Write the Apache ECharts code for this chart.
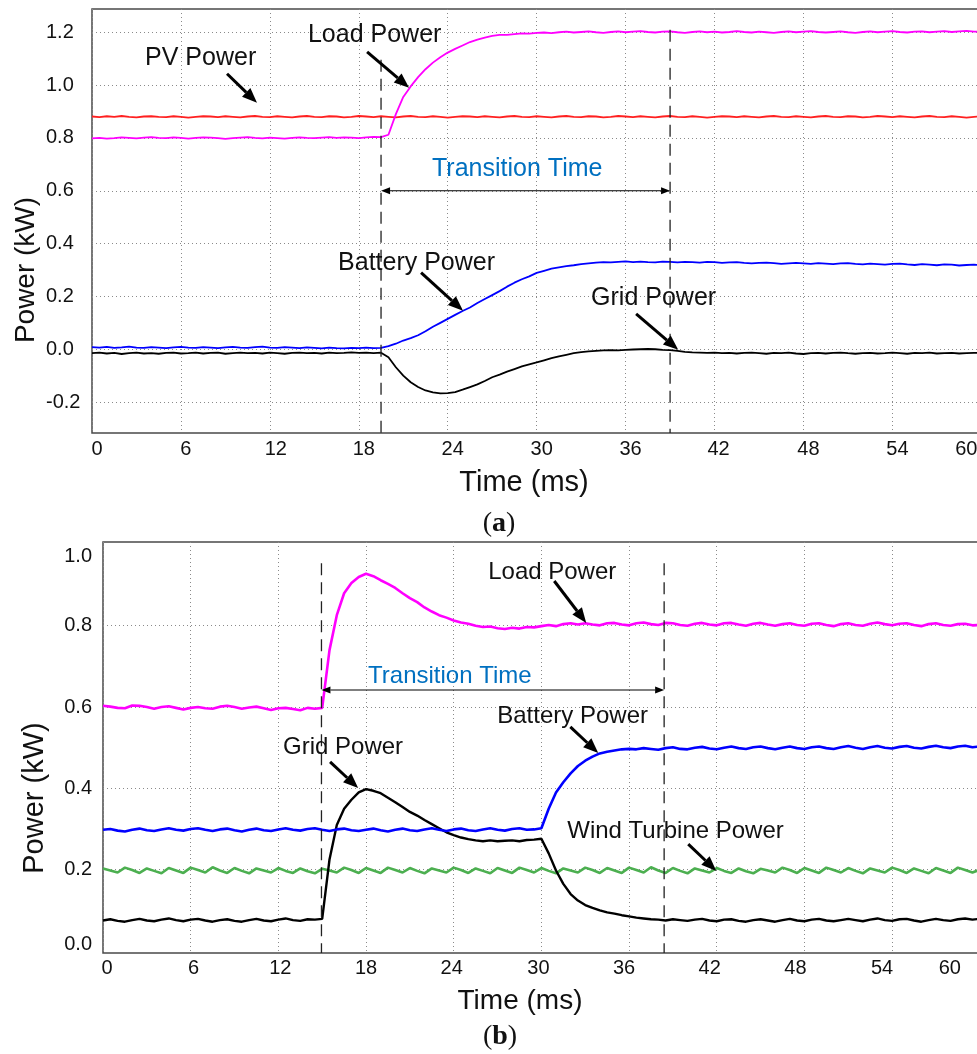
<!DOCTYPE html>
<html>
<head>
<meta charset="utf-8">
<script src="https://cdn.jsdelivr.net/npm/echarts@6.0.0/dist/echarts.min.js"></script>
<style>
  html, body { margin: 0; padding: 0; background: #fff; }
  #chart { width: 977px; height: 1054px; }
</style>
</head>
<body>
<div id="chart"></div>
<script>
// sample times (ms), shared by both panels
const time = [
  0,0.5,1,1.5,2,2.5,3,3.5,4,4.5, 5,5.5,6,6.5,7,7.5,8,8.5,9,9.5,
  10,10.5,11,11.5,12,12.5,13,13.5,14,14.5, 15,15.5,16,16.5,17,17.5,18,18.5,19,19.5,
  20,20.5,21,21.5,22,22.5,23,23.5,24,24.5, 25,25.5,26,26.5,27,27.5,28,28.5,29,29.5,
  30,30.5,31,31.5,32,32.5,33,33.5,34,34.5, 35,35.5,36,36.5,37,37.5,38,38.5,39,39.5,
  40,40.5,41,41.5,42,42.5,43,43.5,44,44.5, 45,45.5,46,46.5,47,47.5,48,48.5,49,49.5,
  50,50.5,51,51.5,52,52.5,53,53.5,54,54.5, 55,55.5,56,56.5,57,57.5,58,58.5,59,59.5,
  60
];

// ---- panel (a) ----
const aPv = [
  0.881,0.879,0.882,0.880,0.883,0.880,0.878,0.881,0.882,0.880,
  0.879,0.882,0.880,0.877,0.880,0.882,0.881,0.879,0.882,0.880,
  0.878,0.881,0.883,0.880,0.879,0.882,0.880,0.878,0.881,0.883,
  0.880,0.879,0.882,0.881,0.878,0.880,0.883,0.881,0.879,0.882,
  0.880,0.878,0.881,0.883,0.880,0.879,0.882,0.880,0.877,0.880,
  0.882,0.881,0.879,0.882,0.880,0.878,0.881,0.883,0.880,0.879,
  0.882,0.880,0.878,0.881,0.883,0.880,0.879,0.882,0.881,0.878,
  0.880,0.883,0.881,0.879,0.882,0.880,0.878,0.881,0.883,0.880,
  0.879,0.882,0.880,0.877,0.880,0.882,0.881,0.879,0.882,0.880,
  0.878,0.881,0.883,0.880,0.879,0.882,0.880,0.878,0.881,0.883,
  0.880,0.879,0.882,0.881,0.878,0.880,0.883,0.881,0.879,0.882,
  0.880,0.878,0.881,0.883,0.880,0.879,0.882,0.880,0.877,0.880,
  0.881
];
const aLoad = [
  0.798,0.800,0.797,0.799,0.802,0.800,0.798,0.801,0.803,0.800,
  0.799,0.802,0.800,0.797,0.800,0.802,0.801,0.799,0.796,0.799,
  0.801,0.803,0.800,0.798,0.801,0.799,0.797,0.800,0.802,0.800,
  0.799,0.801,0.803,0.800,0.802,0.801,0.799,0.802,0.804,0.803,
  0.812,0.890,0.955,0.995,1.030,1.060,1.085,1.105,1.123,1.137,
  1.150,1.163,1.172,1.180,1.186,1.190,1.190,1.193,1.196,1.195,
  1.198,1.199,1.197,1.200,1.202,1.199,1.201,1.203,1.200,1.198,
  1.201,1.203,1.200,1.202,1.204,1.201,1.199,1.202,1.203,1.200,
  1.198,1.201,1.203,1.200,1.202,1.199,1.201,1.204,1.201,1.199,
  1.202,1.200,1.198,1.201,1.203,1.200,1.202,1.204,1.201,1.199,
  1.201,1.203,1.200,1.198,1.201,1.203,1.200,1.202,1.204,1.201,
  1.199,1.202,1.203,1.200,1.202,1.204,1.201,1.203,1.205,1.202,
  1.203
];
const aBattery = [
  0.008,0.006,0.009,0.005,0.007,0.010,0.006,0.005,0.008,0.006,
  0.004,0.007,0.009,0.006,0.005,0.008,0.006,0.004,0.007,0.009,
  0.006,0.005,0.008,0.010,0.006,0.005,0.008,0.006,0.004,0.007,
  0.005,0.003,0.006,0.004,0.003,0.005,0.004,0.006,0.004,0.005,
  0.012,0.021,0.033,0.042,0.053,0.068,0.085,0.100,0.115,0.130,
  0.145,0.158,0.175,0.190,0.205,0.220,0.237,0.252,0.265,0.276,
  0.289,0.297,0.305,0.310,0.315,0.318,0.322,0.325,0.328,0.330,
  0.329,0.331,0.333,0.330,0.332,0.330,0.329,0.332,0.331,0.329,
  0.331,0.330,0.328,0.331,0.330,0.327,0.329,0.330,0.327,0.325,
  0.327,0.328,0.326,0.323,0.325,0.327,0.325,0.323,0.326,0.324,
  0.322,0.325,0.326,0.323,0.321,0.324,0.322,0.320,0.323,0.324,
  0.321,0.319,0.322,0.320,0.318,0.321,0.320,0.317,0.319,0.320,
  0.318
];
const aGrid = [
  -0.015,-0.013,-0.016,-0.014,-0.018,-0.015,-0.013,-0.016,-0.015,-0.017,
  -0.014,-0.013,-0.016,-0.015,-0.013,-0.016,-0.014,-0.013,-0.017,-0.015,
  -0.013,-0.015,-0.014,-0.016,-0.013,-0.015,-0.017,-0.014,-0.013,-0.015,
  -0.014,-0.016,-0.013,-0.015,-0.014,-0.012,-0.014,-0.013,-0.015,-0.013,
  -0.030,-0.068,-0.100,-0.125,-0.143,-0.156,-0.163,-0.167,-0.166,-0.162,
  -0.153,-0.143,-0.133,-0.120,-0.106,-0.096,-0.085,-0.075,-0.065,-0.057,
  -0.050,-0.042,-0.034,-0.027,-0.021,-0.015,-0.011,-0.008,-0.006,-0.004,
  -0.003,-0.004,-0.002,-0.001,0.000,0.001,0.000,-0.002,-0.003,-0.006,
  -0.010,-0.012,-0.013,-0.014,-0.013,-0.015,-0.014,-0.016,-0.014,-0.013,
  -0.015,-0.017,-0.014,-0.015,-0.013,-0.016,-0.018,-0.015,-0.014,-0.016,
  -0.014,-0.013,-0.015,-0.017,-0.015,-0.014,-0.016,-0.015,-0.013,-0.015,
  -0.017,-0.014,-0.015,-0.013,-0.016,-0.015,-0.014,-0.016,-0.015,-0.014,
  -0.014
];

// ---- panel (b) ----
const bLoad = [
  0.603,0.601,0.598,0.597,0.604,0.603,0.600,0.596,0.600,0.602,
  0.598,0.594,0.598,0.600,0.597,0.596,0.601,0.603,0.600,0.596,
  0.599,0.601,0.597,0.593,0.597,0.598,0.595,0.592,0.598,0.596,
  0.598,0.740,0.826,0.880,0.905,0.920,0.928,0.922,0.912,0.903,
  0.893,0.880,0.868,0.858,0.845,0.835,0.826,0.820,0.813,0.808,
  0.805,0.800,0.797,0.798,0.794,0.792,0.795,0.793,0.797,0.796,
  0.799,0.802,0.799,0.804,0.806,0.803,0.806,0.803,0.801,0.806,
  0.807,0.803,0.801,0.806,0.808,0.804,0.802,0.807,0.806,0.802,
  0.800,0.805,0.807,0.803,0.801,0.806,0.807,0.803,0.800,0.805,
  0.807,0.803,0.800,0.804,0.806,0.802,0.800,0.805,0.806,0.802,
  0.799,0.804,0.806,0.802,0.800,0.805,0.808,0.804,0.801,0.805,
  0.806,0.802,0.799,0.804,0.806,0.802,0.800,0.804,0.805,0.801,
  0.802
];
const bBattery = [
  0.298,0.300,0.296,0.294,0.298,0.301,0.297,0.295,0.299,0.302,
  0.298,0.296,0.300,0.302,0.298,0.295,0.299,0.301,0.297,0.294,
  0.298,0.301,0.297,0.295,0.299,0.302,0.298,0.296,0.300,0.302,
  0.298,0.295,0.299,0.301,0.297,0.295,0.298,0.301,0.297,0.294,
  0.298,0.301,0.297,0.295,0.299,0.302,0.298,0.295,0.299,0.301,
  0.297,0.295,0.299,0.302,0.298,0.296,0.300,0.302,0.298,0.299,
  0.302,0.350,0.390,0.415,0.437,0.455,0.468,0.478,0.486,0.490,
  0.493,0.496,0.497,0.496,0.499,0.497,0.495,0.499,0.501,0.497,
  0.496,0.500,0.502,0.498,0.496,0.500,0.503,0.499,0.497,0.501,
  0.503,0.499,0.496,0.500,0.503,0.499,0.497,0.501,0.503,0.499,
  0.497,0.501,0.504,0.500,0.497,0.501,0.504,0.500,0.498,0.502,
  0.504,0.500,0.498,0.502,0.505,0.501,0.499,0.503,0.505,0.501,
  0.503
];
const bWind = [
  0.203,0.198,0.193,0.205,0.199,0.192,0.203,0.197,0.191,0.204,
  0.198,0.192,0.205,0.199,0.193,0.206,0.198,0.192,0.204,0.197,
  0.191,0.203,0.198,0.193,0.204,0.197,0.192,0.203,0.196,0.191,
  0.202,0.198,0.193,0.205,0.199,0.192,0.204,0.198,0.192,0.205,
  0.199,0.193,0.204,0.197,0.191,0.203,0.198,0.193,0.205,0.199,
  0.192,0.203,0.197,0.191,0.204,0.198,0.192,0.205,0.199,0.193,
  0.204,0.197,0.191,0.203,0.198,0.193,0.205,0.199,0.192,0.204,
  0.198,0.192,0.205,0.199,0.193,0.206,0.198,0.192,0.204,0.197,
  0.191,0.203,0.198,0.193,0.204,0.197,0.192,0.203,0.196,0.191,
  0.202,0.198,0.193,0.205,0.199,0.192,0.204,0.198,0.192,0.205,
  0.199,0.193,0.204,0.197,0.191,0.203,0.198,0.193,0.205,0.199,
  0.192,0.203,0.197,0.191,0.204,0.198,0.192,0.205,0.199,0.193,
  0.200
];
const bGrid = [
  0.075,0.078,0.074,0.072,0.076,0.079,0.075,0.073,0.077,0.080,
  0.076,0.073,0.077,0.079,0.075,0.072,0.076,0.078,0.074,0.072,
  0.076,0.079,0.075,0.073,0.077,0.080,0.076,0.074,0.078,0.077,
  0.079,0.225,0.310,0.350,0.372,0.390,0.398,0.394,0.388,0.377,
  0.366,0.354,0.342,0.333,0.322,0.312,0.302,0.292,0.285,0.279,
  0.275,0.272,0.270,0.272,0.270,0.271,0.272,0.270,0.273,0.274,
  0.276,0.240,0.198,0.165,0.140,0.124,0.113,0.106,0.100,0.095,
  0.092,0.088,0.085,0.082,0.080,0.078,0.077,0.075,0.078,0.076,
  0.074,0.077,0.079,0.075,0.073,0.077,0.078,0.074,0.072,0.076,
  0.078,0.075,0.072,0.076,0.079,0.075,0.073,0.077,0.079,0.075,
  0.073,0.076,0.079,0.076,0.073,0.077,0.080,0.076,0.074,0.078,
  0.079,0.075,0.072,0.076,0.079,0.076,0.074,0.078,0.080,0.077,
  0.079
];

// axis tick labels
const xTicks = [0, 6, 12, 18, 24, 30, 36, 42, 48, 54, 60];
const aYTicks = [-0.2, 0, 0.2, 0.4, 0.6, 0.8, 1.0, 1.2];
const bYTicks = [0, 0.2, 0.4, 0.6, 0.8, 1.0];
const bYGridLines = [0.2, 0.4, 0.6, 0.8];

// annotations, in data coordinates [ms, kW]
const aNotes = [
  { text: 'PV Power',      at: [3.58, 1.101],  from: [9.11, 1.043],  to: [11.13, 0.933] },
  { text: 'Load Power',    at: [14.57, 1.190], from: [18.56, 1.126], to: [21.39, 0.990] },
  { text: 'Battery Power', at: [16.6, 0.326],  from: [22.2, 0.290],  to: [25.03, 0.146] },
  { text: 'Grid Power',    at: [33.67, 0.195], from: [36.71, 0.134], to: [39.55, -0.002] }
];
const bNotes = [
  { text: 'Load Power',         at: [26.36, 0.932], from: [30.88, 0.910], to: [33.07, 0.807] },
  { text: 'Battery Power',      at: [26.98, 0.578], from: [31.98, 0.551], to: [33.89, 0.487] },
  { text: 'Grid Power',         at: [12.32, 0.501], from: [15.54, 0.465], to: [17.46, 0.401] },
  { text: 'Wind Turbine Power', at: [31.77, 0.293], from: [40.05, 0.263], to: [41.97, 0.197] }
];
// transition markers: dashed lines at start/end, arrow level, label position
const aTransition = { start: 19.5, end: 39.0, startTop: 1.096, endTop: 1.209, level: 0.600, label: [22.94, 0.683] };
const bTransition = { start: 14.95, end: 38.4, startTop: 0.954, endTop: 0.954, level: 0.642, label: [18.14, 0.676] };

const FONT = '"Liberation Sans", Arial, Helvetica, sans-serif';
const SERIF = '"Liberation Serif", "Times New Roman", serif';
const INK = '#111';

// per-label horizontal nudges (px), one per x tick
const aXShift = [5, 5, 6, 5, 5, 5, 5, 4, 5, 5, -15];
const bXShift = [4, 3, 2, 0, -2, -3, -5, -7, -9, -10, -30];

function xLabelRich(shifts) {
  const rich = {};
  shifts.forEach((s, i) => {
    rich['s' + i] = {
      fontSize: 20, fontFamily: FONT, color: INK,
      padding: s >= 0 ? [0, 0, 0, 2 * s] : [0, -2 * s, 0, 0]
    };
  });
  return rich;
}
function xLabelFmt(v) {
  const i = xTicks.indexOf(v);
  return i < 0 ? '' : '{s' + i + '|' + v + '}';
}

const dotted = { color: '#8a8a8a', width: 1, type: [1, 3] };

function xAxis(grid, shifts, margin) {
  return {
    gridIndex: grid, type: 'value', min: 0, max: 62, interval: 6,
    axisLine: { show: false }, axisTick: { show: false },
    splitLine: { show: true, lineStyle: dotted },
    axisLabel: { margin: margin, formatter: xLabelFmt, rich: xLabelRich(shifts), showMaxLabel: false }
  };
}

function line(name, grid, values, color, width) {
  return {
    name: name, type: 'line', xAxisIndex: grid, yAxisIndex: grid,
    data: time.map((t, i) => [t, values[i]]),
    showSymbol: false, symbol: 'none', animation: false,
    lineStyle: { color: color, width: width }, itemStyle: { color: color }
  };
}

const chart = echarts.init(document.getElementById('chart'), null, { renderer: 'canvas' });

const option = {
  backgroundColor: '#fff',
  animation: false,
  grid: [
    { left: 92, top: 9, width: 919, height: 424, show: true, borderColor: '#4a4a4a', borderWidth: 1.5, outerBoundsMode: 'none' },
    { left: 103, top: 542, width: 906, height: 411, show: true, borderColor: '#4a4a4a', borderWidth: 1.5, outerBoundsMode: 'none' }
  ],
  xAxis: [xAxis(0, aXShift, 6), xAxis(1, bXShift, 5)],
  yAxis: [
    {
      gridIndex: 0, type: 'value', min: -0.317, max: 1.288,
      axisLine: { show: false },
      axisTick: { show: false, customValues: aYTicks },
      splitLine: { show: true, lineStyle: dotted },
      axisLabel: {
        customValues: aYTicks, formatter: v => v.toFixed(1),
        align: 'left', margin: 46, fontSize: 20, fontFamily: FONT, color: INK
      }
    },
    {
      gridIndex: 1, type: 'value', min: -0.005, max: 1.006,
      axisLine: { show: false },
      axisTick: { show: false, customValues: bYGridLines },
      splitLine: { show: true, lineStyle: dotted },
      axisLabel: {
        customValues: bYTicks,
        formatter: v => {
          const s = v.toFixed(1);
          if (Math.abs(v - 1) < 1e-9) return '{hi|' + s + '}';
          if (Math.abs(v) < 1e-9) return '{lo|' + s + '}';
          return s;
        },
        rich: {
          hi: { fontSize: 20, fontFamily: FONT, color: INK, padding: [24, 0, 0, 0] },
          lo: { fontSize: 20, fontFamily: FONT, color: INK, padding: [0, 0, 12, 0] }
        },
        align: 'right', margin: 11, fontSize: 20, fontFamily: FONT, color: INK
      }
    }
  ],
  series: [
    line('PV Power', 0, aPv, '#ff2020', 1.8),
    line('Load Power', 0, aLoad, '#ff00ff', 1.8),
    line('Grid Power', 0, aGrid, '#000000', 1.8),
    line('Battery Power', 0, aBattery, '#0000ff', 1.8),
    line('Wind Turbine Power', 1, bWind, '#4caf50', 2.6),
    line('Grid Power', 1, bGrid, '#000000', 2.4),
    line('Battery Power', 1, bBattery, '#0000ff', 2.6),
    line('Load Power', 1, bLoad, '#ff00ff', 2.6)
  ]
};
chart.setOption(option);

// ---- annotation layer, placed through the axes' own scales ----
function px(grid, p) { return chart.convertToPixel({ gridIndex: grid }, p); }

function head(tip, tail, len, w) {
  const dx = tip[0] - tail[0], dy = tip[1] - tail[1];
  const d = Math.hypot(dx, dy), ux = dx / d, uy = dy / d;
  const bx = tip[0] - ux * len, by = tip[1] - uy * len;
  return {
    base: [bx, by],
    points: [tip, [bx - uy * w / 2, by + ux * w / 2], [bx + uy * w / 2, by - ux * w / 2]]
  };
}

function arrow(p0, p1, width, len, w) {
  const h = head(p1, p0, len, w);
  return [
    { type: 'line', z: 100, shape: { x1: p0[0], y1: p0[1], x2: h.base[0], y2: h.base[1] }, style: { stroke: '#000', lineWidth: width } },
    { type: 'polygon', z: 100, shape: { points: h.points }, style: { fill: '#000' } }
  ];
}

function doubleArrow(p0, p1) {
  const a = head(p1, p0, 9, 7), b = head(p0, p1, 9, 7);
  return [
    { type: 'line', z: 100, shape: { x1: b.base[0], y1: b.base[1], x2: a.base[0], y2: a.base[1] }, style: { stroke: '#000', lineWidth: 1.2 } },
    { type: 'polygon', z: 100, shape: { points: a.points }, style: { fill: '#000' } },
    { type: 'polygon', z: 100, shape: { points: b.points }, style: { fill: '#000' } }
  ];
}

function label(p, text, size, color) {
  return {
    type: 'text', z: 100, x: p[0], y: p[1],
    style: { text: text, fill: color || INK, font: size + 'px ' + FONT, align: 'left', verticalAlign: 'middle' }
  };
}

function panel(grid, notes, tr, size, yMin) {
  let els = [];
  notes.forEach(n => {
    els.push(label(px(grid, n.at), n.text, size));
    els = els.concat(arrow(px(grid, n.from), px(grid, n.to), 3, 15, 12));
  });
  [[tr.start, tr.startTop], [tr.end, tr.endTop]].forEach(d => {
    const a = px(grid, [d[0], d[1]]), b = px(grid, [d[0], yMin]);
    els.push({ type: 'line', z: 90, shape: { x1: a[0], y1: a[1], x2: b[0], y2: b[1] }, style: { stroke: '#222', lineWidth: 1.3, lineDash: [12, 7] } });
  });
  els = els.concat(doubleArrow(px(grid, [tr.start, tr.level]), px(grid, [tr.end, tr.level])));
  els.push(label(px(grid, tr.label), 'Transition Time', size, '#0070c0'));
  return els;
}

function title(x, y, text, size, rot) {
  return {
    type: 'text', z: 100, x: x, y: y, rotation: rot || 0,
    style: { text: text, fill: INK, font: size + 'px ' + FONT, align: 'center', verticalAlign: 'middle' }
  };
}
function caption(x, y, letter) {
  return {
    type: 'text', z: 100, x: x, y: y,
    style: {
      text: '{p|(}{b|' + letter + '}{p|)}', align: 'center', verticalAlign: 'middle',
      rich: {
        p: { fontFamily: SERIF, fontSize: 28, fill: INK, color: INK },
        b: { fontFamily: SERIF, fontSize: 28, fontWeight: 'bold', fill: INK, color: INK }
      }
    }
  };
}

const graphics = []
  .concat(panel(0, aNotes, aTransition, 25, -0.317))
  .concat(panel(1, bNotes, bTransition, 24, -0.005))
  .concat([
    title(26, 270, 'Power (kW)', 28, Math.PI / 2),
    title(35, 798, 'Power (kW)', 29, Math.PI / 2),
    title(524, 483, 'Time (ms)', 29),
    title(520, 1001, 'Time (ms)', 28),
    caption(499, 524, 'a'),
    caption(500, 1037, 'b')
  ]);

chart.setOption({ graphic: graphics });
</script>
</body>
</html>
